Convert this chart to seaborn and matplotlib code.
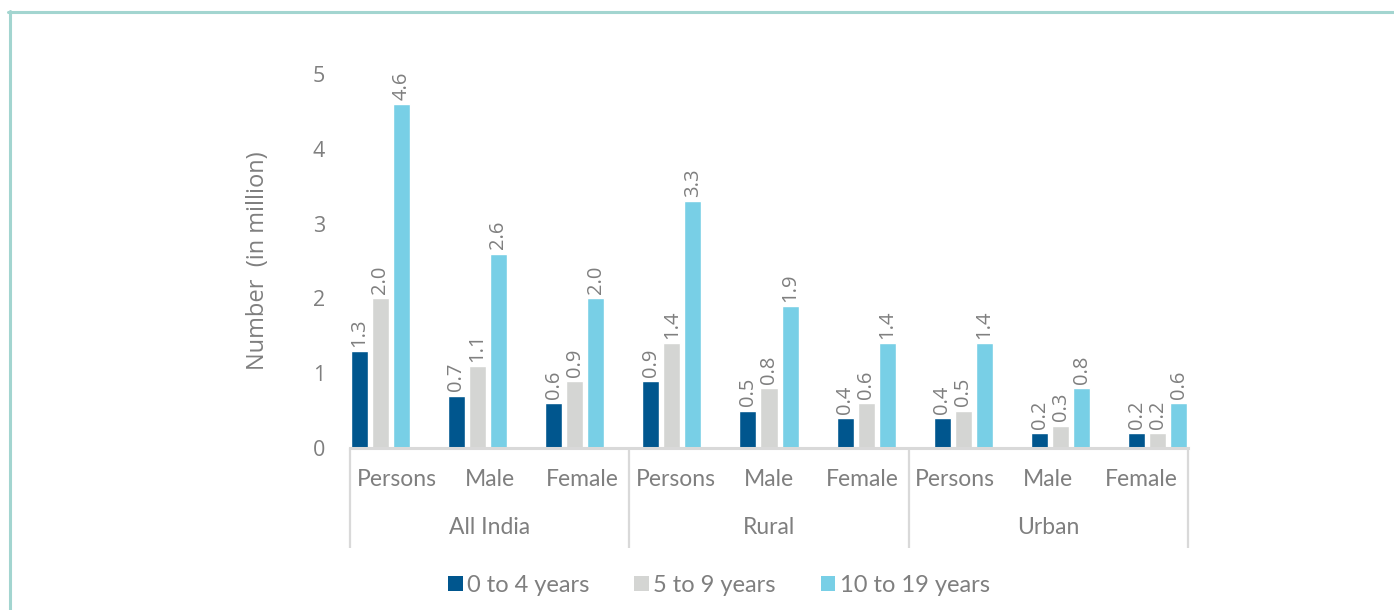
import numpy as np
import pandas as pd
import matplotlib
matplotlib.use("Agg")
import matplotlib.pyplot as plt
from matplotlib.patches import Patch
from matplotlib.lines import Line2D
import seaborn as sns

# ---- data (million persons) ----
regions = ["All India", "Rural", "Urban"]
groups = ["Persons", "Male", "Female"]
age_bands = ["0 to 4 years", "5 to 9 years", "10 to 19 years"]

age_0_4 = [1.3, 0.7, 0.6, 0.9, 0.5, 0.4, 0.4, 0.2, 0.2]
age_5_9 = [2.0, 1.1, 0.9, 1.4, 0.8, 0.6, 0.5, 0.3, 0.2]
age_10_19 = [4.6, 2.6, 2.0, 3.3, 1.9, 1.4, 1.4, 0.8, 0.6]

y_ticks = [0, 1, 2, 3, 4, 5]

# ---- styling ----
colors = ["#00568E", "#D4D5D3", "#78CFE6"]
text_grey = "#7F7F7F"
line_grey = "#D9D9D9"
border_teal = "#A3D5D0"

sns.set_theme(style="white")
plt.rcParams["font.family"] = ["Open Sans", "DejaVu Sans"]

# long-form table for seaborn
keys = [f"{r}|{g}" for r in regions for g in groups]
records = []
for band, vals in zip(age_bands, [age_0_4, age_5_9, age_10_19]):
    for k, v in zip(keys, vals):
        records.append({"key": k, "band": band, "value": v})
df = pd.DataFrame(records)

W, H, DPI = 1394, 610, 100
fig = plt.figure(figsize=(W / DPI, H / DPI), dpi=DPI)
ax_left, ax_right, ax_bottom, ax_top = 350, 1188, 448, 74  # pixel frame
ax = fig.add_axes([ax_left / W, 1 - ax_bottom / H,
                   (ax_right - ax_left) / W, (ax_bottom - ax_top) / H])

sns.barplot(data=df, x="key", y="value", hue="band", order=keys,
            hue_order=age_bands, palette=colors, width=0.65, gap=0.19,
            saturation=1, legend=False, ax=ax, errorbar=None)

ax.set_xlim(-0.31, 8.31)
ax.set_ylim(0, 5)
ax.set_yticks(y_ticks)
ax.set_yticklabels([str(t) for t in y_ticks])
ax.tick_params(axis="y", length=0, pad=18, labelsize=15.5, labelcolor=text_grey)
ax.set_xticks([])
ax.set_xlabel("")
ax.set_ylabel("Number  (in million)", fontsize=17, color=text_grey)
ax.yaxis.set_label_coords(-0.095, 0.5)

for side in ["left", "right", "top"]:
    ax.spines[side].set_visible(False)
ax.spines["bottom"].set_color(line_grey)
ax.spines["bottom"].set_linewidth(2.2)

# value labels on every bar
for cont, vals in zip(ax.containers, [age_0_4, age_5_9, age_10_19]):
    ax.bar_label(cont, labels=[f"{v:.1f}" for v in vals], rotation=90,
                 padding=3, fontsize=14.5, color=text_grey)

# two-level category axis
px_per_axes_y = ax_bottom - ax_top
n = len(keys)
for i, k in enumerate(keys):
    ax.annotate(k.split("|")[1], xy=((i + 0.5) / n, 0), xycoords="axes fraction",
                xytext=(0, -32), textcoords="offset pixels", ha="center",
                va="center", fontsize=16.5, color=text_grey, family="Lato")
for j, r in enumerate(regions):
    ax.annotate(r, xy=((j + 0.5) / len(regions), 0), xycoords="axes fraction",
                xytext=(0, -80), textcoords="offset pixels", ha="center",
                va="center", fontsize=16.5, color=text_grey, family="Lato")
for j in range(len(regions) + 1):
    xf = j / len(regions)
    ax.plot([xf, xf], [0, -100 / px_per_axes_y], transform=ax.transAxes,
            color=line_grey, lw=1.6, clip_on=False, solid_capstyle="butt")

# legend
handles = [Patch(facecolor=c, edgecolor="none", label=b)
           for c, b in zip(colors, age_bands)]
leg = fig.legend(handles=handles, loc="center", ncol=3, frameon=False,
                 bbox_to_anchor=(719 / W, 1 - 585 / H),
                 prop={"family": "Lato", "size": 17},
                 handlelength=0.6, handleheight=0.6, handletextpad=0.2,
                 columnspacing=1.9, labelcolor=text_grey)

# panel border
fig.add_artist(Line2D([8 / W, 1], [1 - 11.5 / H, 1 - 11.5 / H],
                      transform=fig.transFigure, color=border_teal, lw=2.2))
fig.add_artist(Line2D([9.5 / W, 9.5 / W], [1 - 10.5 / H, 0],
                      transform=fig.transFigure, color=border_teal, lw=2.2))

fig.savefig("out.png", dpi=DPI, facecolor="white")
